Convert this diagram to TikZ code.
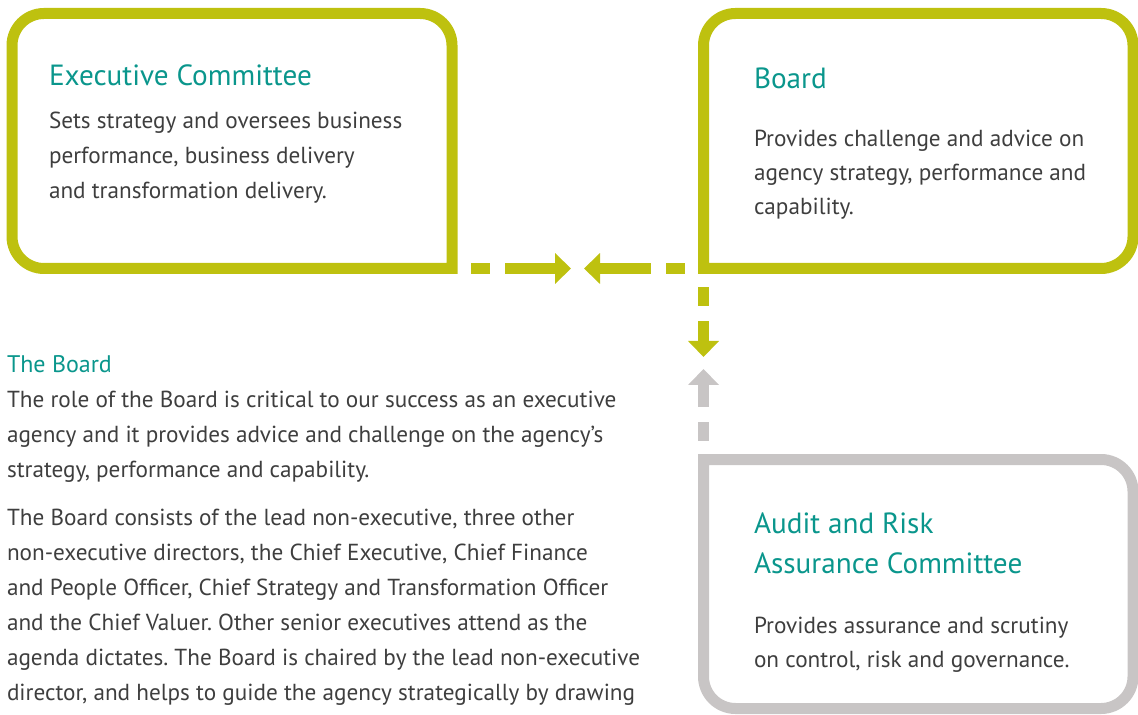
\documentclass[tikz,border=0pt]{standalone}
\usepackage{fontspec}
\setmainfont{PT Sans}
\frenchspacing
\usetikzlibrary{arrows.meta}
\definecolor{leafgreen}{RGB}{190,193,15}
\definecolor{teal}{RGB}{10,150,140}
\definecolor{stone}{RGB}{200,197,197}
\definecolor{ink}{RGB}{62,62,62}
\tikzset{
	every node/.style={anchor=base west,align=left,inner sep=0pt,outer sep=0pt},
	heading/.style={text=teal,font=\fontsize{14.6}{20}\selectfont},
	blurb/.style={text=ink,font=\fontsize{11.6}{17.5}\selectfont},
	frame/.style={line width=5.5pt,line cap=rect,rounded corners=16pt},
	dashlink/.style={line width=5.5pt,dash pattern=on 0pt off 9.5pt on 9.5pt off 7.5pt on 100pt,
		-{Triangle[width=15pt,length=8pt]}},
}

\begin{document}
\begin{tikzpicture}[x=0.5pt,y=-0.5pt]
		\useasboundingbox (0,0) rectangle (1138,715);
		
		% corners where the links leave the boxes..........
		\coordinate (ecCorner) at (452,268.5);
		\coordinate (bdCorner) at (703.5,268.5);
		\coordinate (arCorner) at (703.5,459.5);
		\coordinate (ecTip) at (571,268.5);
		\coordinate (bdTip) at (584,268.5);
		\coordinate (downTip) at (703.5,357);
		\coordinate (upTip) at (703.5,369);
		
		% executive committee box..................
		% (a multi-line node sits on the baseline of its last line)
		\draw [frame,leafgreen] (ecCorner) -- (452,13.5) -- (12,13.5) -- (12,268.5) -- (ecCorner);
		\node [heading] (ecHead) at (49,86) {Executive Committee};
		\node [blurb] (ecText) at (49,199) {Sets strategy and oversees business\\
			performance, business delivery\\and transformation delivery.};
		
		% board box....................
		\draw [frame,leafgreen] (bdCorner) -- (703.5,13.5) -- (1133,13.5) -- (1133,268.5) -- (bdCorner);
		\node [heading] (bdHead) at (754,89) {Board};
		\node [blurb,font=\fontsize{11.6}{17}\selectfont] (bdText) at (754,215) {Provides challenge and advice on\\
			agency strategy, performance and\\capability.};
		
		% audit and risk box...................
		\draw [frame,stone] (arCorner) -- (1133,459.5) -- (1133,708.5) -- (703.5,708.5) -- (arCorner);
		\node [heading] (arHead) at (754,573) {Audit and Risk\\Assurance Committee};
		\node [blurb,font=\fontsize{11.6}{17}\selectfont] (arText) at (754,667) {Provides assurance and scrutiny\\
			on control, risk and governance.};
		
		% dashed links...................
		\draw [dashlink,leafgreen] (ecCorner) -- (ecTip);
		\draw [dashlink,leafgreen] (bdCorner) -- (bdTip);
		\draw [dashlink,leafgreen] (bdCorner) -- (downTip);
		\draw [dashlink,stone] (arCorner) -- (upTip);
		
		% the board text.....................
		\node [heading,font=\fontsize{12}{17.5}\selectfont] (tbHead) at (7,372) {The Board};
		\node [blurb] (tbText1) at (7,477) {The role of the Board is critical to our success as an executive\\
			agency and it provides advice and challenge on the agency’s\\
			strategy, performance and capability.};
		\node [blurb] (tbText2) at (7,700) {The Board consists of the lead non-executive, three other\\
			non-executive directors, the Chief Executive, Chief Finance\\
			and People Officer, Chief Strategy and Transformation Officer\\
			and the Chief Valuer. Other senior executives attend as the\\
			agenda dictates. The Board is chaired by the lead non-executive\\
			director, and helps to guide the agency strategically by drawing};
		
	\end{tikzpicture}
\end{document}
